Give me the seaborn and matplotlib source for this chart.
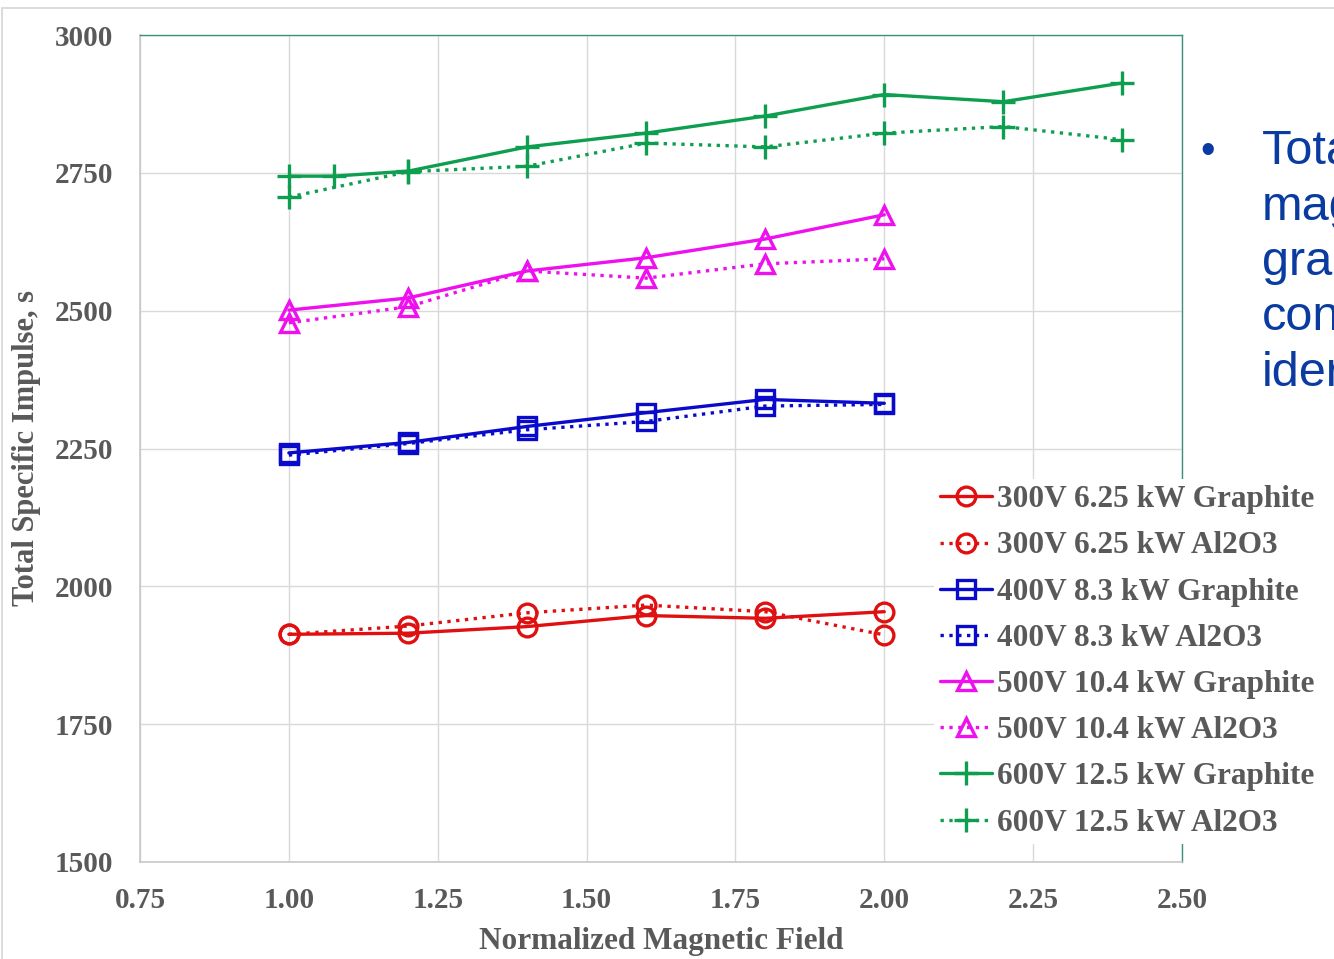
import numpy as np
import pandas as pd
import matplotlib
matplotlib.use("Agg")
import matplotlib.pyplot as plt
import seaborn as sns
from matplotlib.patches import Rectangle

# =========================
# DATOS
# =========================
b_6 = [1.0, 1.2, 1.4, 1.6, 1.8, 2.0]
isp_300_gr = [1913, 1915, 1927, 1947, 1942, 1954]
isp_300_al = [1913, 1928, 1952, 1966, 1954, 1912]
isp_400_gr = [2242, 2261, 2290, 2315, 2339, 2332]
isp_400_al = [2238, 2259, 2284, 2299, 2327, 2330]
isp_500_gr = [2501, 2523, 2572, 2596, 2630, 2674]
isp_500_al = [2478, 2507, 2572, 2559, 2585, 2594]
b_600_gr = [1.0, 1.075, 1.2, 1.4, 1.6, 1.8, 2.0, 2.2, 2.4]
isp_600_gr = [2744, 2744, 2753, 2797, 2822, 2853, 2892, 2879, 2913]
b_600_al = [1.0, 1.2, 1.4, 1.6, 1.8, 2.0, 2.2, 2.4]
isp_600_al = [2706, 2752, 2762, 2804, 2797, 2822, 2834, 2810]

labels = ["300V 6.25 kW Graphite", "300V 6.25 kW Al2O3",
          "400V 8.3 kW Graphite", "400V 8.3 kW Al2O3",
          "500V 10.4 kW Graphite", "500V 10.4 kW Al2O3",
          "600V 12.5 kW Graphite", "600V 12.5 kW Al2O3"]

side_text = ["Tota", "mag", "grap", "con", "ider"]

series = [
    (b_6, isp_300_gr, "#E01010", "o", "-"),
    (b_6, isp_300_al, "#E01010", "o", ":"),
    (b_6, isp_400_gr, "#0A0ACC", "s", "-"),
    (b_6, isp_400_al, "#0A0ACC", "s", ":"),
    (b_6, isp_500_gr, "#EE10EE", "^", "-"),
    (b_6, isp_500_al, "#EE10EE", "^", ":"),
    (b_600_gr, isp_600_gr, "#0E9E50", "+", "-"),
    (b_600_al, isp_600_al, "#0E9E50", "+", ":"),
]

sns.set_theme(style="whitegrid")
plt.rcParams["font.family"] = ["Liberation Serif", "DejaVu Serif"]
gris = "#595959"

fig = plt.figure(figsize=(13.34, 9.59), dpi=100)
ax = fig.add_axes([140/1334, 1 - 862/959, (1182-140)/1334, (862-35)/959])
ax.set_facecolor("white")

for (xs, ys, col, mk, ls), lab in zip(series, labels):
    df = pd.DataFrame({"B": xs, "Isp": ys})
    ms = 17 if mk == "+" else 13.5
    sns.lineplot(data=df, x="B", y="Isp", ax=ax, color=col, marker=mk,
                 linestyle=ls, linewidth=2.4, markersize=ms,
                 markerfacecolor="none", markeredgecolor=col,
                 markeredgewidth=2.4, label=lab, sort=False)

ax.set_xlim(0.75, 2.5)
ax.set_ylim(1500, 3000)
ax.set_xticks(np.arange(0.75, 2.51, 0.25))
ax.set_yticks(np.arange(1500, 3001, 250))
ax.set_xticklabels([f"{v:.2f}" for v in np.arange(0.75, 2.51, 0.25)])
ax.grid(True, color="#D9D9D9", linewidth=1)
ax.tick_params(axis="y", length=0, pad=19, labelsize=21, labelcolor=gris)
ax.tick_params(axis="x", length=0, pad=18, labelsize=21, labelcolor=gris)
for t in ax.get_xticklabels() + ax.get_yticklabels():
    t.set_fontweight("bold")

for s in ["left", "bottom"]:
    ax.spines[s].set_color("#C8C8C8")
    ax.spines[s].set_linewidth(1.2)
for s in ["top", "right"]:
    ax.spines[s].set_color("#3F8F7C")
    ax.spines[s].set_linewidth(1.0)

ax.set_xlabel("")
ax.set_ylabel("")
fig.text(661/1334, 1 - 942/959, "Normalized Magnetic Field", ha="center",
         va="center", fontsize=22.5, fontweight="bold", color=gris)
fig.text(27/1334, 1 - 448/959, "Total Specific Impulse, s", ha="center",
         va="center", rotation=90, fontsize=22, fontweight="bold", color=gris)

leg = ax.legend(loc="upper left", bbox_to_anchor=(934/1334, 1 - 479/959),
                bbox_transform=fig.transFigure, fontsize=22.5, frameon=True,
                facecolor="white", edgecolor="none", framealpha=1,
                handlelength=1.65, handletextpad=0.15, labelspacing=0.55,
                borderpad=0.2, borderaxespad=0, fancybox=False)
for t in leg.get_texts():
    t.set_color(gris)
    t.set_fontweight("bold")

# texto lateral (recortado por el borde, como en la diapositiva)
azul = "#0A3BA0"
fig.text(1208/1334, 1 - 152/959, "\u2022", ha="center", va="center",
         fontsize=30, color=azul, family=["Liberation Sans", "DejaVu Sans"])
for i, linea in enumerate(side_text):
    fig.text(1262/1334, 1 - (152 + i*55.3)/959, linea, ha="left",
             va="center", fontsize=35, color=azul,
             family=["Liberation Sans", "DejaVu Sans"])

# marco gris de la diapositiva
fig.patches.append(Rectangle((2/1334, -0.05), 1.1, 1.05 - 8/959,
                             transform=fig.transFigure, fill=False,
                             edgecolor="#D5D5D5", linewidth=1.2))

fig.savefig("out.png", dpi=100)
